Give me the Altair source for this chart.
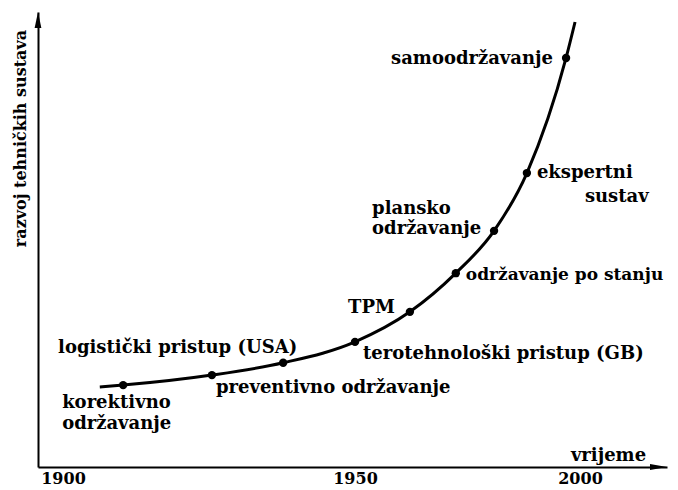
import altair as alt
import pandas as pd

# ---- data ----
stages = [
    "korektivno održavanje",
    "preventivno održavanje",
    "logistički pristup (USA)",
    "terotehnološki pristup (GB)",
    "TPM",
    "održavanje po stanju",
    "plansko održavanje",
    "ekspertni sustav",
    "samoodržavanje",
]
stage_years = [1910.3, 1925.5, 1937.7, 1950.0, 1962.2, 1972.4, 1980.9, 1988.2, 1996.9]
stage_levels = [18.0, 20.2, 22.9, 27.5, 34.1, 42.6, 51.9, 64.6, 89.9]

curve_years = [1906.3] + stage_years + [1998.9]
curve_levels = [17.6] + stage_levels + [97.8]

tick_years = [1900, 1950, 2000]
x_title = "vrijeme"
y_title = "razvoj tehničkih sustava"

# label lines: (stage, line text)
label_lines = [
    ("korektivno održavanje", "korektivno"),
    ("korektivno održavanje", "održavanje"),
    ("preventivno održavanje", "preventivno održavanje"),
    ("logistički pristup (USA)", "logistički pristup (USA)"),
    ("terotehnološki pristup (GB)", "terotehnološki pristup (GB)"),
    ("TPM", "TPM"),
    ("održavanje po stanju", "održavanje po stanju"),
    ("plansko održavanje", "plansko"),
    ("plansko održavanje", "održavanje"),
    ("ekspertni sustav", "ekspertni"),
    ("ekspertni sustav", "sustav"),
    ("samoodržavanje", "samoodržavanje"),
]

# ---- layout / style (not data) ----
FONT = "DejaVu Serif"
FS = 18
FS_TICK = 16
W, H = 629, 455
# (align, dx, dy, fontSize) per label line, in the same order as label_lines
label_style = [
    ("left", -61, 23, FS),
    ("left", -61, 44, FS),
    ("left", 4, 18, FS),
    ("right", 14, -10, FS),
    ("left", 8, 17, FS),
    ("right", -15, 1, FS),
    ("left", 10, 7, 17),
    ("left", -122, -17, FS),
    ("left", -122, 3, FS),
    ("left", 10, 5, FS),
    ("left", 58, 29, FS),
    ("right", -13, 6, FS),
]

curve_df = pd.DataFrame({"year": curve_years, "level": curve_levels})
stage_df = pd.DataFrame({"stage": stages, "year": stage_years, "level": stage_levels})
label_df = pd.DataFrame(label_lines, columns=["stage", "text"]).merge(stage_df, on="stage")
label_df["i"] = range(len(label_df))

xscale = alt.Scale(
    domain=[1895.7, 1900, 1950, 2000, 2019.3],
    range=[0, 25, 317, 542, W],
    nice=False,
    zero=False,
)
yscale = alt.Scale(domain=[0, 100], nice=False, zero=False)

x_enc = alt.X(
    "year:Q",
    scale=xscale,
    axis=alt.Axis(
        values=tick_years,
        format="d",
        title=x_title,
        ticks=False,
        grid=False,
        domainColor="black",
        domainWidth=2,
        labelFont=FONT,
        labelFontSize=FS_TICK,
        labelFontWeight="bold",
        labelColor="black",
        labelPadding=3,
        labelFlush=False,
        labelOverlap=False,
        titleFont=FONT,
        titleFontSize=FS,
        titleFontWeight="bold",
        titleColor="black",
        titleX=570,
        titleY=-7,
        titleAlign="center",
        titleBaseline="alphabetic",
        titleAngle=0,
    ),
)
y_enc = alt.Y(
    "level:Q",
    scale=yscale,
    axis=alt.Axis(
        title=y_title,
        labels=False,
        ticks=False,
        grid=False,
        domainColor="black",
        domainWidth=2,
        titleFont=FONT,
        titleFontSize=16,
        titleFontWeight="bold",
        titleColor="black",
        titleAngle=270,
        titleX=-18,
        titleY=126,
        titleAlign="center",
        titleBaseline="middle",
    ),
)

curve = alt.Chart(curve_df).mark_line(
    color="black", strokeWidth=3, interpolate="monotone"
).encode(x=x_enc, y=y_enc)

dots = alt.Chart(stage_df).mark_point(
    filled=True, color="black", opacity=1, size=70, shape="circle"
).encode(x=alt.X("year:Q", scale=xscale), y=alt.Y("level:Q", scale=yscale))

layers = [curve, dots]
for i, (align, dx, dy, fs) in enumerate(label_style):
    layers.append(
        alt.Chart(label_df)
        .transform_filter(alt.datum.i == i)
        .mark_text(
            align=align,
            baseline="alphabetic",
            dx=dx,
            dy=dy,
            font=FONT,
            fontSize=fs,
            fontWeight="bold",
            color="black",
        )
        .encode(
            x=alt.X("year:Q", scale=xscale),
            y=alt.Y("level:Q", scale=yscale),
            text="text:N",
        )
    )

dummy = pd.DataFrame({"a": [0]})
x_arrow = alt.Chart(dummy).mark_point(
    shape="M-1,-0.35L1,0L-1,0.35Z", size=289, filled=True, color="black", opacity=1
).encode(x=alt.value(W - 8.5), y=alt.value(H))
y_arrow = alt.Chart(dummy).mark_point(
    shape="M-0.42,1L0,-1L0.42,1Z", size=256, filled=True, color="black", opacity=1
).encode(x=alt.value(0), y=alt.value(8))
layers += [x_arrow, y_arrow]

chart = (
    alt.layer(*layers)
    .properties(
        width=W,
        height=H,
        autosize=alt.AutoSizeParams(type="none"),
        padding={"left": 30, "top": 4, "right": 3, "bottom": 24},
        background="white",
    )
    .configure_view(stroke=None)
)

chart.save("out.html", embed_options={"renderer": "svg", "actions": False})
